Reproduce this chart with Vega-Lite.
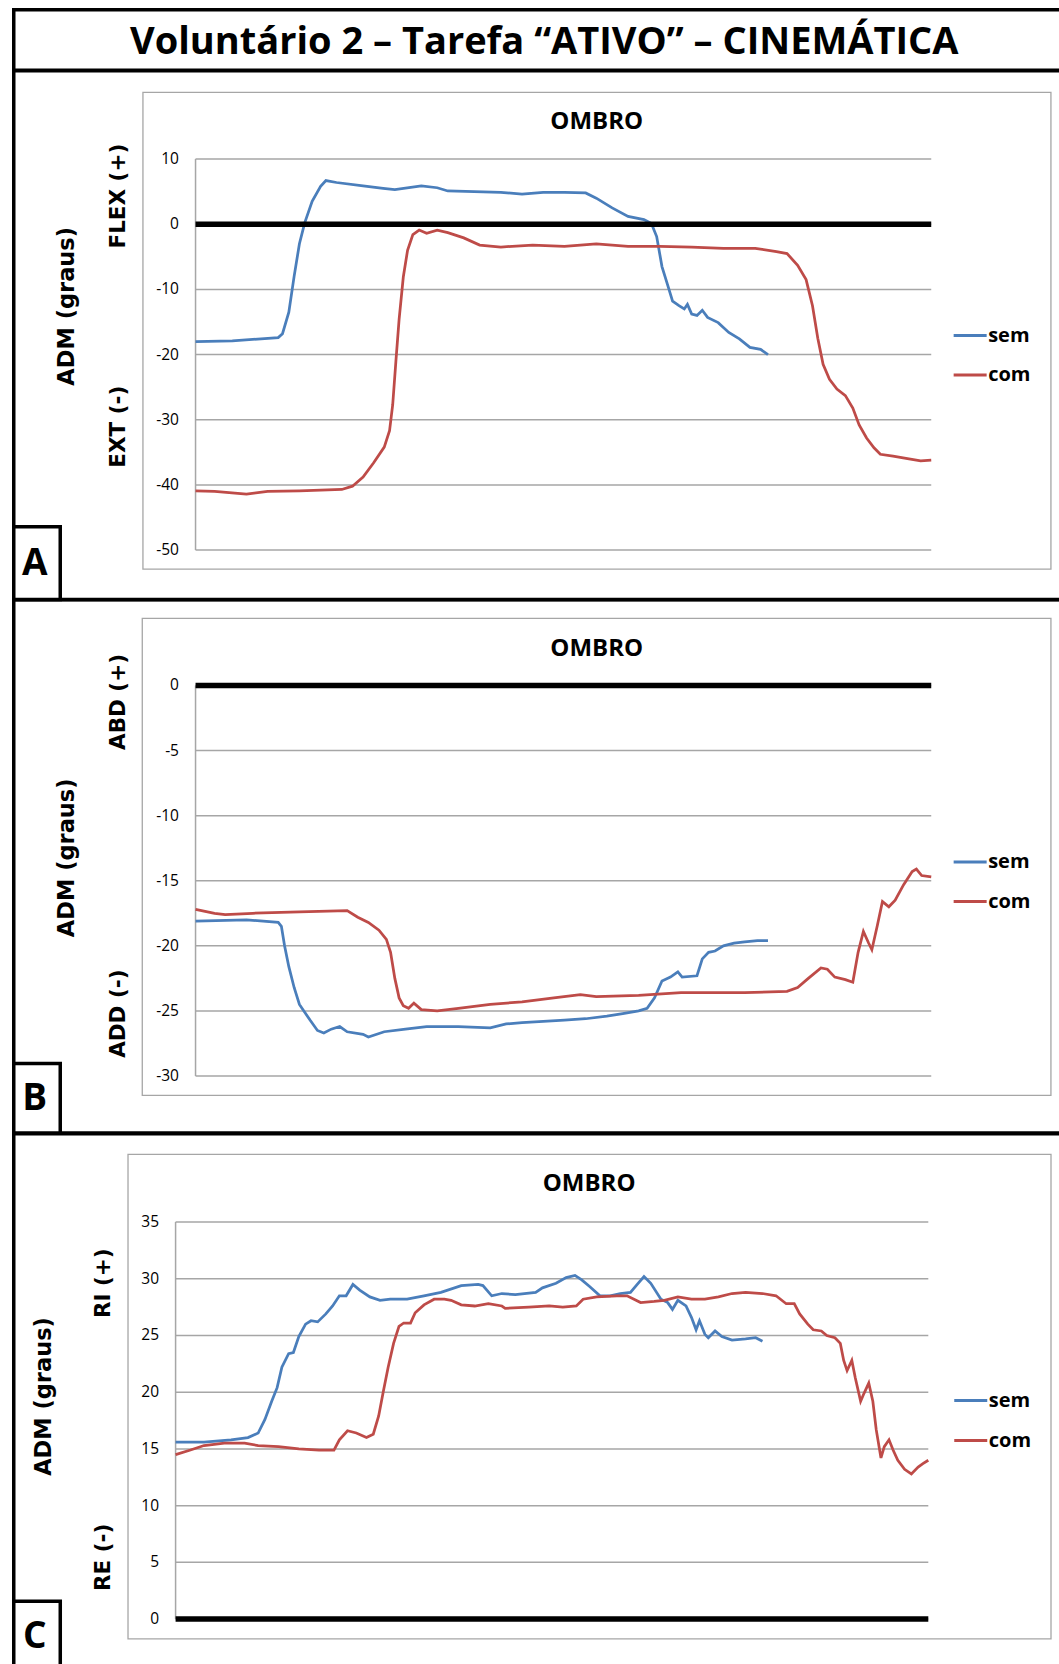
{
  "$schema": "https://vega.github.io/schema/vega-lite/v6.json",
  "padding": {"left": 9.75, "top": 7.75, "right": 0, "bottom": 0},
  "spacing": 0,
  "bounds": "flush",
  "config": {
    "view": {"stroke": "#000000", "strokeWidth": 3.5},
    "axis": {"disable": true}
  },
  "resolve": {
    "scale": {"x": "independent", "y": "independent", "color": "independent"},
    "legend": {"color": "independent"}
  },
  "vconcat": [
    {
      "width": 1050.5,
      "height": 60.5,
      "view": {"stroke": "#000000", "strokeWidth": 3.5},
      "data": {"values": [{"label": "Voluntário 2 – Tarefa “ATIVO” – CINEMÁTICA"}]},
      "mark": {"type": "text", "font": "Open Sans", "fontWeight": "bold", "fontSize": 38, "color": "#000000", "align": "center", "baseline": "alphabetic"},
      "encoding": {
        "x": {"datum": 0.505, "scale": {"domain": [0, 1], "nice": false, "zero": false}},
        "y": {"datum": 0.276, "scale": {"domain": [0, 1], "nice": false, "zero": false}},
        "text": {"field": "label", "type": "nominal"}
      }
    },
    {
      "width": 1050.5,
      "height": 528.7,
      "layer": [
        {
          "data": {"values": [{}]},
          "mark": {"type": "rect", "fill": "#ffffff", "fillOpacity": 0, "stroke": "#a6a6a6", "strokeWidth": 1.3},
          "encoding": {
            "x": {"datum": -7.15, "scale": {"domain": [-24.71, 118.08], "nice": false, "zero": false}},
            "x2": {"datum": 116.27},
            "y": {"datum": 20.22, "scale": {"domain": [-57.58, 23.55], "nice": false, "zero": false}},
            "y2": {"datum": -52.92}
          }
        },
        {
          "data": {"values": [{"v": 10}, {"v": 0}, {"v": -10}, {"v": -20}, {"v": -30}, {"v": -40}, {"v": -50}]},
          "mark": {"type": "rule", "color": "#a6a6a6", "strokeWidth": 1.5},
          "encoding": {
            "x": {"datum": 0, "scale": {"domain": [-24.71, 118.08], "nice": false, "zero": false}},
            "x2": {"datum": 100},
            "y": {"field": "v", "type": "quantitative", "scale": {"domain": [-57.58, 23.55], "nice": false, "zero": false}}
          }
        },
        {
          "data": {"values": [{}]},
          "mark": {"type": "rule", "color": "#a6a6a6", "strokeWidth": 1.5},
          "encoding": {
            "x": {"datum": 0, "scale": {"domain": [-24.71, 118.08], "nice": false, "zero": false}},
            "y": {"datum": 10, "scale": {"domain": [-57.58, 23.55], "nice": false, "zero": false}},
            "y2": {"datum": -50}
          }
        },
        {
          "data": {"values": [
            {"s":"sem","t":0,"v":-18.0},{"s":"sem","t":5,"v":-17.9},{"s":"sem","t":11.24,"v":-17.4},{"s":"sem","t":11.82,"v":-16.8},
            {"s":"sem","t":12.68,"v":-13.5},{"s":"sem","t":13.4,"v":-8.0},{"s":"sem","t":14.12,"v":-3.0},{"s":"sem","t":14.84,"v":0.2},
            {"s":"sem","t":15.85,"v":3.5},{"s":"sem","t":17.0,"v":5.8},{"s":"sem","t":17.72,"v":6.7},{"s":"sem","t":19.16,"v":6.4},
            {"s":"sem","t":22.77,"v":5.9},{"s":"sem","t":25.5,"v":5.5},{"s":"sem","t":27.09,"v":5.3},{"s":"sem","t":30.69,"v":5.9},
            {"s":"sem","t":32.85,"v":5.6},{"s":"sem","t":34.29,"v":5.1},{"s":"sem","t":41.5,"v":4.9},{"s":"sem","t":44.38,"v":4.6},
            {"s":"sem","t":47.26,"v":4.9},{"s":"sem","t":50.14,"v":4.9},{"s":"sem","t":53.03,"v":4.8},{"s":"sem","t":54.47,"v":4.0},
            {"s":"sem","t":56.63,"v":2.5},{"s":"sem","t":58.79,"v":1.2},{"s":"sem","t":60.95,"v":0.7},{"s":"sem","t":61.96,"v":0.1},
            {"s":"sem","t":62.68,"v":-1.9},{"s":"sem","t":63.4,"v":-6.5},{"s":"sem","t":64.27,"v":-9.7},{"s":"sem","t":64.84,"v":-11.8},
            {"s":"sem","t":65.71,"v":-12.5},{"s":"sem","t":66.43,"v":-13.0},{"s":"sem","t":66.86,"v":-12.3},{"s":"sem","t":67.44,"v":-13.8},
            {"s":"sem","t":68.16,"v":-14.0},{"s":"sem","t":68.88,"v":-13.2},{"s":"sem","t":69.6,"v":-14.3},{"s":"sem","t":71.04,"v":-15.1},
            {"s":"sem","t":72.48,"v":-16.6},{"s":"sem","t":73.92,"v":-17.6},{"s":"sem","t":75.36,"v":-18.9},{"s":"sem","t":76.8,"v":-19.2},
            {"s":"sem","t":77.81,"v":-20.0},
            {"s":"com","t":0,"v":-40.9},{"s":"com","t":2.59,"v":-41.0},{"s":"com","t":6.92,"v":-41.4},{"s":"com","t":9.8,"v":-41.0},
            {"s":"com","t":14.12,"v":-40.9},{"s":"com","t":19.88,"v":-40.7},{"s":"com","t":21.33,"v":-40.2},{"s":"com","t":22.77,"v":-38.8},
            {"s":"com","t":24.21,"v":-36.6},{"s":"com","t":25.65,"v":-34.2},{"s":"com","t":26.37,"v":-31.7},{"s":"com","t":26.8,"v":-27.7},
            {"s":"com","t":27.23,"v":-21.1},{"s":"com","t":27.67,"v":-14.6},{"s":"com","t":28.24,"v":-8.1},{"s":"com","t":28.82,"v":-4.0},
            {"s":"com","t":29.54,"v":-1.6},{"s":"com","t":30.4,"v":-0.9},{"s":"com","t":31.41,"v":-1.4},{"s":"com","t":32.85,"v":-0.9},
            {"s":"com","t":34.29,"v":-1.3},{"s":"com","t":36.46,"v":-2.1},{"s":"com","t":38.62,"v":-3.2},{"s":"com","t":41.5,"v":-3.5},
            {"s":"com","t":45.82,"v":-3.2},{"s":"com","t":50.14,"v":-3.4},{"s":"com","t":54.47,"v":-3.0},{"s":"com","t":58.79,"v":-3.4},
            {"s":"com","t":63.11,"v":-3.4},{"s":"com","t":67.44,"v":-3.5},{"s":"com","t":71.76,"v":-3.7},{"s":"com","t":76.08,"v":-3.7},
            {"s":"com","t":78.96,"v":-4.2},{"s":"com","t":80.4,"v":-4.5},{"s":"com","t":81.84,"v":-6.3},{"s":"com","t":82.99,"v":-8.5},
            {"s":"com","t":83.86,"v":-12.5},{"s":"com","t":84.58,"v":-17.5},{"s":"com","t":85.3,"v":-21.5},{"s":"com","t":86.17,"v":-23.8},
            {"s":"com","t":87.18,"v":-25.3},{"s":"com","t":88.33,"v":-26.3},{"s":"com","t":89.34,"v":-28.2},{"s":"com","t":90.2,"v":-30.8},
            {"s":"com","t":91.21,"v":-32.8},{"s":"com","t":92.22,"v":-34.3},{"s":"com","t":93.08,"v":-35.3},{"s":"com","t":94.81,"v":-35.6},
            {"s":"com","t":96.97,"v":-36.0},{"s":"com","t":98.56,"v":-36.3},{"s":"com","t":100,"v":-36.2}
          ]},
          "mark": {"type": "line", "strokeWidth": 2.75},
          "encoding": {
            "x": {"field": "t", "type": "quantitative", "scale": {"domain": [-24.71, 118.08], "nice": false, "zero": false}},
            "y": {"field": "v", "type": "quantitative", "scale": {"domain": [-57.58, 23.55], "nice": false, "zero": false}},
            "color": {
              "field": "s", "type": "nominal",
              "scale": {"domain": ["sem", "com"], "range": ["#4a7ebb", "#be4b48"]},
              "legend": {"orient": "none", "legendX": 938.4, "legendY": 246.8, "title": null, "padding": 0,
                "symbolType": "stroke", "symbolSize": 1089, "symbolStrokeWidth": 3,
                "labelFont": "Open Sans", "labelFontSize": 20, "labelFontWeight": "bold", "labelColor": "#000000",
                "labelOffset": 0, "rowPadding": 11.5}
            }
          }
        },
        {
          "data": {"values": [{}]},
          "mark": {"type": "rule", "color": "#000000", "strokeWidth": 5.5},
          "encoding": {
            "x": {"datum": 0, "scale": {"domain": [-24.71, 118.08], "nice": false, "zero": false}},
            "x2": {"datum": 100},
            "y": {"datum": 0, "scale": {"domain": [-57.58, 23.55], "nice": false, "zero": false}}
          }
        },
        {
          "data": {"values": [{"v": 10, "lab": "10"}, {"v": 0, "lab": "0"}, {"v": -10, "lab": "-10"}, {"v": -20, "lab": "-20"}, {"v": -30, "lab": "-30"}, {"v": -40, "lab": "-40"}, {"v": -50, "lab": "-50"}]},
          "mark": {"type": "text", "align": "right", "baseline": "middle", "font": "Open Sans", "fontSize": 15.5, "color": "#000000"},
          "encoding": {
            "x": {"datum": -2.25, "scale": {"domain": [-24.71, 118.08], "nice": false, "zero": false}},
            "y": {"field": "v", "type": "quantitative", "scale": {"domain": [-57.58, 23.55], "nice": false, "zero": false}},
            "text": {"field": "lab", "type": "nominal"}
          }
        },
        {
          "data": {"values": [{"label": "OMBRO"}]},
          "mark": {"type": "text", "align": "center", "baseline": "middle", "font": "Open Sans", "fontWeight": "bold", "fontSize": 24, "color": "#000000"},
          "encoding": {
            "x": {"datum": 54.53, "scale": {"domain": [-24.71, 118.08], "nice": false, "zero": false}},
            "y": {"datum": 15.62, "scale": {"domain": [-57.58, 23.55], "nice": false, "zero": false}},
            "text": {"field": "label", "type": "nominal"}
          }
        },
        {
          "data": {"values": [{"label": "FLEX (+)"}]},
          "mark": {"type": "text", "angle": 270, "align": "center", "baseline": "middle", "font": "DejaVu Sans", "fontWeight": "bold", "fontSize": 21.5, "color": "#000000"},
          "encoding": {
            "x": {"datum": -10.44, "scale": {"domain": [-24.71, 118.08], "nice": false, "zero": false}},
            "y": {"datum": 4.31, "scale": {"domain": [-57.58, 23.55], "nice": false, "zero": false}},
            "text": {"field": "label", "type": "nominal"}
          }
        },
        {
          "data": {"values": [{"label": "EXT (-)"}]},
          "mark": {"type": "text", "angle": 270, "align": "center", "baseline": "middle", "font": "DejaVu Sans", "fontWeight": "bold", "fontSize": 21.5, "color": "#000000"},
          "encoding": {
            "x": {"datum": -10.44, "scale": {"domain": [-24.71, 118.08], "nice": false, "zero": false}},
            "y": {"datum": -31.08, "scale": {"domain": [-57.58, 23.55], "nice": false, "zero": false}},
            "text": {"field": "label", "type": "nominal"}
          }
        },
        {
          "data": {"values": [{"label": "ADM (graus)"}]},
          "mark": {"type": "text", "angle": 270, "align": "center", "baseline": "middle", "font": "DejaVu Sans", "fontWeight": "bold", "fontSize": 22.5, "color": "#000000"},
          "encoding": {
            "x": {"datum": -17.44, "scale": {"domain": [-24.71, 118.08], "nice": false, "zero": false}},
            "y": {"datum": -12.6, "scale": {"domain": [-57.58, 23.55], "nice": false, "zero": false}},
            "text": {"field": "label", "type": "nominal"}
          }
        },
        {
          "data": {"values": [{}]},
          "mark": {"type": "rect", "fill": "#ffffff", "stroke": "#000000", "strokeWidth": 3.5},
          "encoding": {
            "x": {"datum": -24.71, "scale": {"domain": [-24.71, 118.08], "nice": false, "zero": false}},
            "x2": {"datum": -18.39},
            "y": {"datum": -46.42, "scale": {"domain": [-57.58, 23.55], "nice": false, "zero": false}},
            "y2": {"datum": -57.58}
          }
        },
        {
          "data": {"values": [{"label": "A"}]},
          "mark": {"type": "text", "align": "center", "baseline": "middle", "font": "Open Sans", "fontWeight": "bold", "fontSize": 37, "color": "#000000"},
          "encoding": {
            "x": {"datum": -21.86, "scale": {"domain": [-24.71, 118.08], "nice": false, "zero": false}},
            "y": {"datum": -52.21, "scale": {"domain": [-57.58, 23.55], "nice": false, "zero": false}},
            "text": {"field": "label", "type": "nominal"}
          }
        }
      ]
    },
    {
      "width": 1050.5,
      "height": 533.3,
      "layer": [
        {
          "data": {"values": [{}]},
          "mark": {"type": "rect", "fill": "#ffffff", "fillOpacity": 0, "stroke": "#a6a6a6", "strokeWidth": 1.3},
          "encoding": {
            "x": {"datum": -7.24, "scale": {"domain": [-24.71, 118.08], "nice": false, "zero": false}},
            "x2": {"datum": 116.27},
            "y": {"datum": 5.15, "scale": {"domain": [-34.38, 6.582], "nice": false, "zero": false}},
            "y2": {"datum": -31.48}
          }
        },
        {
          "data": {"values": [{"v": 0}, {"v": -5}, {"v": -10}, {"v": -15}, {"v": -20}, {"v": -25}, {"v": -30}]},
          "mark": {"type": "rule", "color": "#a6a6a6", "strokeWidth": 1.5},
          "encoding": {
            "x": {"datum": 0, "scale": {"domain": [-24.71, 118.08], "nice": false, "zero": false}},
            "x2": {"datum": 100},
            "y": {"field": "v", "type": "quantitative", "scale": {"domain": [-34.38, 6.582], "nice": false, "zero": false}}
          }
        },
        {
          "data": {"values": [{}]},
          "mark": {"type": "rule", "color": "#a6a6a6", "strokeWidth": 1.5},
          "encoding": {
            "x": {"datum": 0, "scale": {"domain": [-24.71, 118.08], "nice": false, "zero": false}},
            "y": {"datum": 0, "scale": {"domain": [-34.38, 6.582], "nice": false, "zero": false}},
            "y2": {"datum": -30}
          }
        },
        {
          "data": {"values": [
            {"s":"sem","t":0,"v":-18.1},{"s":"sem","t":6.92,"v":-18.0},{"s":"sem","t":11.24,"v":-18.2},{"s":"sem","t":11.67,"v":-18.5},
            {"s":"sem","t":12.1,"v":-20.0},{"s":"sem","t":12.68,"v":-21.6},{"s":"sem","t":13.4,"v":-23.2},{"s":"sem","t":14.12,"v":-24.5},
            {"s":"sem","t":15.56,"v":-25.7},{"s":"sem","t":16.57,"v":-26.5},{"s":"sem","t":17.44,"v":-26.7},{"s":"sem","t":18.44,"v":-26.4},
            {"s":"sem","t":19.6,"v":-26.2},{"s":"sem","t":20.61,"v":-26.6},{"s":"sem","t":22.77,"v":-26.8},{"s":"sem","t":23.49,"v":-27.0},
            {"s":"sem","t":25.65,"v":-26.6},{"s":"sem","t":28.53,"v":-26.4},{"s":"sem","t":31.41,"v":-26.2},{"s":"sem","t":35.73,"v":-26.2},
            {"s":"sem","t":40.06,"v":-26.3},{"s":"sem","t":42.22,"v":-26.0},{"s":"sem","t":44.38,"v":-25.9},{"s":"sem","t":47.26,"v":-25.8},
            {"s":"sem","t":50.14,"v":-25.7},{"s":"sem","t":53.03,"v":-25.6},{"s":"sem","t":55.91,"v":-25.4},{"s":"sem","t":58.07,"v":-25.2},
            {"s":"sem","t":60.23,"v":-25.0},{"s":"sem","t":61.38,"v":-24.8},{"s":"sem","t":62.39,"v":-24.0},{"s":"sem","t":63.4,"v":-22.7},
            {"s":"sem","t":64.55,"v":-22.4},{"s":"sem","t":65.56,"v":-22.0},{"s":"sem","t":66.14,"v":-22.4},{"s":"sem","t":68.16,"v":-22.3},
            {"s":"sem","t":68.88,"v":-21.0},{"s":"sem","t":69.74,"v":-20.5},{"s":"sem","t":70.61,"v":-20.4},{"s":"sem","t":71.76,"v":-20.0},
            {"s":"sem","t":73.2,"v":-19.8},{"s":"sem","t":74.64,"v":-19.7},{"s":"sem","t":76.37,"v":-19.6},{"s":"sem","t":77.81,"v":-19.6},
            {"s":"com","t":0,"v":-17.2},{"s":"com","t":2.59,"v":-17.5},{"s":"com","t":4.03,"v":-17.6},{"s":"com","t":7.78,"v":-17.5},
            {"s":"com","t":14.12,"v":-17.4},{"s":"com","t":20.61,"v":-17.3},{"s":"com","t":22.05,"v":-17.8},{"s":"com","t":23.49,"v":-18.2},
            {"s":"com","t":24.93,"v":-18.8},{"s":"com","t":25.94,"v":-19.5},{"s":"com","t":26.51,"v":-20.5},{"s":"com","t":27.09,"v":-22.5},
            {"s":"com","t":27.67,"v":-24.0},{"s":"com","t":28.24,"v":-24.6},{"s":"com","t":28.96,"v":-24.8},{"s":"com","t":29.68,"v":-24.4},
            {"s":"com","t":30.69,"v":-24.9},{"s":"com","t":32.85,"v":-25.0},{"s":"com","t":35.73,"v":-24.8},{"s":"com","t":40.06,"v":-24.5},
            {"s":"com","t":44.38,"v":-24.3},{"s":"com","t":48.7,"v":-24.0},{"s":"com","t":52.31,"v":-23.75},{"s":"com","t":54.47,"v":-23.9},
            {"s":"com","t":60.23,"v":-23.8},{"s":"com","t":65.99,"v":-23.6},{"s":"com","t":74.64,"v":-23.6},{"s":"com","t":80.4,"v":-23.5},
            {"s":"com","t":81.84,"v":-23.2},{"s":"com","t":83.29,"v":-22.5},{"s":"com","t":85.01,"v":-21.7},{"s":"com","t":85.88,"v":-21.8},
            {"s":"com","t":86.89,"v":-22.4},{"s":"com","t":88.33,"v":-22.6},{"s":"com","t":89.34,"v":-22.8},{"s":"com","t":90.06,"v":-20.5},
            {"s":"com","t":90.78,"v":-18.9},{"s":"com","t":91.5,"v":-19.8},{"s":"com","t":91.93,"v":-20.3},{"s":"com","t":92.65,"v":-18.5},
            {"s":"com","t":93.37,"v":-16.6},{"s":"com","t":94.24,"v":-17.0},{"s":"com","t":95.1,"v":-16.5},{"s":"com","t":96.25,"v":-15.3},
            {"s":"com","t":97.41,"v":-14.3},{"s":"com","t":97.98,"v":-14.1},{"s":"com","t":98.7,"v":-14.6},{"s":"com","t":100,"v":-14.7}
          ]},
          "mark": {"type": "line", "strokeWidth": 2.75},
          "encoding": {
            "x": {"field": "t", "type": "quantitative", "scale": {"domain": [-24.71, 118.08], "nice": false, "zero": false}},
            "y": {"field": "v", "type": "quantitative", "scale": {"domain": [-34.38, 6.582], "nice": false, "zero": false}},
            "color": {
              "field": "s", "type": "nominal",
              "scale": {"domain": ["sem", "com"], "range": ["#4a7ebb", "#be4b48"]},
              "legend": {"orient": "none", "legendX": 938.4, "legendY": 244.3, "title": null, "padding": 0,
                "symbolType": "stroke", "symbolSize": 1089, "symbolStrokeWidth": 3,
                "labelFont": "Open Sans", "labelFontSize": 20, "labelFontWeight": "bold", "labelColor": "#000000",
                "labelOffset": 0, "rowPadding": 11.5}
            }
          }
        },
        {
          "data": {"values": [{}]},
          "mark": {"type": "rule", "color": "#000000", "strokeWidth": 5.5},
          "encoding": {
            "x": {"datum": 0, "scale": {"domain": [-24.71, 118.08], "nice": false, "zero": false}},
            "x2": {"datum": 100},
            "y": {"datum": 0, "scale": {"domain": [-34.38, 6.582], "nice": false, "zero": false}}
          }
        },
        {
          "data": {"values": [{"v": 0, "lab": "0"}, {"v": -5, "lab": "-5"}, {"v": -10, "lab": "-10"}, {"v": -15, "lab": "-15"}, {"v": -20, "lab": "-20"}, {"v": -25, "lab": "-25"}, {"v": -30, "lab": "-30"}]},
          "mark": {"type": "text", "align": "right", "baseline": "middle", "font": "Open Sans", "fontSize": 15.5, "color": "#000000"},
          "encoding": {
            "x": {"datum": -2.25, "scale": {"domain": [-24.71, 118.08], "nice": false, "zero": false}},
            "y": {"field": "v", "type": "quantitative", "scale": {"domain": [-34.38, 6.582], "nice": false, "zero": false}},
            "text": {"field": "lab", "type": "nominal"}
          }
        },
        {
          "data": {"values": [{"label": "OMBRO"}]},
          "mark": {"type": "text", "align": "center", "baseline": "middle", "font": "Open Sans", "fontWeight": "bold", "fontSize": 24, "color": "#000000"},
          "encoding": {
            "x": {"datum": 54.53, "scale": {"domain": [-24.71, 118.08], "nice": false, "zero": false}},
            "y": {"datum": 2.82, "scale": {"domain": [-34.38, 6.582], "nice": false, "zero": false}},
            "text": {"field": "label", "type": "nominal"}
          }
        },
        {
          "data": {"values": [{"label": "ABD (+)"}]},
          "mark": {"type": "text", "angle": 270, "align": "center", "baseline": "middle", "font": "DejaVu Sans", "fontWeight": "bold", "fontSize": 21.5, "color": "#000000"},
          "encoding": {
            "x": {"datum": -10.44, "scale": {"domain": [-24.71, 118.08], "nice": false, "zero": false}},
            "y": {"datum": -1.27, "scale": {"domain": [-34.38, 6.582], "nice": false, "zero": false}},
            "text": {"field": "label", "type": "nominal"}
          }
        },
        {
          "data": {"values": [{"label": "ADD (-)"}]},
          "mark": {"type": "text", "angle": 270, "align": "center", "baseline": "middle", "font": "DejaVu Sans", "fontWeight": "bold", "fontSize": 21.5, "color": "#000000"},
          "encoding": {
            "x": {"datum": -10.44, "scale": {"domain": [-24.71, 118.08], "nice": false, "zero": false}},
            "y": {"datum": -25.21, "scale": {"domain": [-34.38, 6.582], "nice": false, "zero": false}},
            "text": {"field": "label", "type": "nominal"}
          }
        },
        {
          "data": {"values": [{"label": "ADM (graus)"}]},
          "mark": {"type": "text", "angle": 270, "align": "center", "baseline": "middle", "font": "DejaVu Sans", "fontWeight": "bold", "fontSize": 22.5, "color": "#000000"},
          "encoding": {
            "x": {"datum": -17.44, "scale": {"domain": [-24.71, 118.08], "nice": false, "zero": false}},
            "y": {"datum": -13.24, "scale": {"domain": [-34.38, 6.582], "nice": false, "zero": false}},
            "text": {"field": "label", "type": "nominal"}
          }
        },
        {
          "data": {"values": [{}]},
          "mark": {"type": "rect", "fill": "#ffffff", "stroke": "#000000", "strokeWidth": 3.5},
          "encoding": {
            "x": {"datum": -24.71, "scale": {"domain": [-24.71, 118.08], "nice": false, "zero": false}},
            "x2": {"datum": -18.39},
            "y": {"datum": -29.04, "scale": {"domain": [-34.38, 6.582], "nice": false, "zero": false}},
            "y2": {"datum": -34.38}
          }
        },
        {
          "data": {"values": [{"label": "B"}]},
          "mark": {"type": "text", "align": "center", "baseline": "middle", "font": "Open Sans", "fontWeight": "bold", "fontSize": 37, "color": "#000000"},
          "encoding": {
            "x": {"datum": -21.86, "scale": {"domain": [-24.71, 118.08], "nice": false, "zero": false}},
            "y": {"datum": -31.73, "scale": {"domain": [-34.38, 6.582], "nice": false, "zero": false}},
            "text": {"field": "label", "type": "nominal"}
          }
        }
      ]
    },
    {
      "width": 1050.5,
      "height": 540,
      "layer": [
        {
          "data": {"values": [{}]},
          "mark": {"type": "rect", "fill": "#ffffff", "fillOpacity": 0, "stroke": "#a6a6a6", "strokeWidth": 1.3},
          "encoding": {
            "x": {"datum": -6.32, "scale": {"domain": [-21.5, 118.06], "nice": false, "zero": false}},
            "x2": {"datum": 116.3},
            "y": {"datum": 40.96, "scale": {"domain": [-4.822, 42.785], "nice": false, "zero": false}},
            "y2": {"datum": -1.74}
          }
        },
        {
          "data": {"values": [{"v": 35}, {"v": 30}, {"v": 25}, {"v": 20}, {"v": 15}, {"v": 10}, {"v": 5}, {"v": 0}]},
          "mark": {"type": "rule", "color": "#a6a6a6", "strokeWidth": 1.5},
          "encoding": {
            "x": {"datum": 0, "scale": {"domain": [-21.5, 118.06], "nice": false, "zero": false}},
            "x2": {"datum": 100},
            "y": {"field": "v", "type": "quantitative", "scale": {"domain": [-4.822, 42.785], "nice": false, "zero": false}}
          }
        },
        {
          "data": {"values": [{}]},
          "mark": {"type": "rule", "color": "#a6a6a6", "strokeWidth": 1.5},
          "encoding": {
            "x": {"datum": 0, "scale": {"domain": [-21.5, 118.06], "nice": false, "zero": false}},
            "y": {"datum": 35, "scale": {"domain": [-4.822, 42.785], "nice": false, "zero": false}},
            "y2": {"datum": 0}
          }
        },
        {
          "data": {"values": [
            {"s":"sem","t":0,"v":15.6},{"s":"sem","t":3.78,"v":15.6},{"s":"sem","t":7.37,"v":15.8},{"s":"sem","t":9.62,"v":16.0},
            {"s":"sem","t":10.97,"v":16.4},{"s":"sem","t":11.87,"v":17.6},{"s":"sem","t":12.77,"v":19.2},{"s":"sem","t":13.49,"v":20.4},
            {"s":"sem","t":14.12,"v":22.2},{"s":"sem","t":15.02,"v":23.4},{"s":"sem","t":15.65,"v":23.5},{"s":"sem","t":16.37,"v":24.9},
            {"s":"sem","t":17.27,"v":26.0},{"s":"sem","t":17.99,"v":26.3},{"s":"sem","t":18.88,"v":26.2},{"s":"sem","t":19.96,"v":26.9},
            {"s":"sem","t":20.86,"v":27.6},{"s":"sem","t":21.76,"v":28.5},{"s":"sem","t":22.66,"v":28.5},{"s":"sem","t":23.56,"v":29.5},
            {"s":"sem","t":24.46,"v":29.0},{"s":"sem","t":25.81,"v":28.4},{"s":"sem","t":27.16,"v":28.1},{"s":"sem","t":28.51,"v":28.2},
            {"s":"sem","t":30.76,"v":28.2},{"s":"sem","t":33.0,"v":28.5},{"s":"sem","t":35.25,"v":28.8},{"s":"sem","t":37.95,"v":29.4},
            {"s":"sem","t":40.2,"v":29.5},{"s":"sem","t":40.83,"v":29.4},{"s":"sem","t":42.0,"v":28.5},{"s":"sem","t":43.35,"v":28.7},
            {"s":"sem","t":45.14,"v":28.6},{"s":"sem","t":47.84,"v":28.8},{"s":"sem","t":48.74,"v":29.2},{"s":"sem","t":50.54,"v":29.6},
            {"s":"sem","t":51.89,"v":30.1},{"s":"sem","t":53.06,"v":30.3},{"s":"sem","t":53.96,"v":29.9},{"s":"sem","t":55.04,"v":29.3},
            {"s":"sem","t":56.38,"v":28.5},{"s":"sem","t":57.73,"v":28.5},{"s":"sem","t":59.08,"v":28.7},{"s":"sem","t":60.43,"v":28.8},
            {"s":"sem","t":61.33,"v":29.5},{"s":"sem","t":62.23,"v":30.2},{"s":"sem","t":63.13,"v":29.6},{"s":"sem","t":64.48,"v":28.2},
            {"s":"sem","t":65.38,"v":27.9},{"s":"sem","t":66.01,"v":27.3},{"s":"sem","t":66.73,"v":28.1},{"s":"sem","t":67.81,"v":27.6},
            {"s":"sem","t":68.53,"v":26.6},{"s":"sem","t":69.15,"v":25.5},{"s":"sem","t":69.6,"v":26.3},{"s":"sem","t":70.32,"v":25.1},
            {"s":"sem","t":70.77,"v":24.8},{"s":"sem","t":71.67,"v":25.4},{"s":"sem","t":72.57,"v":24.9},{"s":"sem","t":73.92,"v":24.6},
            {"s":"sem","t":75.72,"v":24.7},{"s":"sem","t":77.07,"v":24.8},{"s":"sem","t":77.97,"v":24.5},
            {"s":"com","t":0,"v":14.5},{"s":"com","t":1.98,"v":14.9},{"s":"com","t":3.78,"v":15.3},{"s":"com","t":6.47,"v":15.5},
            {"s":"com","t":9.17,"v":15.5},{"s":"com","t":10.97,"v":15.3},{"s":"com","t":13.67,"v":15.2},{"s":"com","t":16.37,"v":15.0},
            {"s":"com","t":19.06,"v":14.9},{"s":"com","t":21.04,"v":14.9},{"s":"com","t":21.76,"v":15.8},{"s":"com","t":22.84,"v":16.6},
            {"s":"com","t":24.01,"v":16.4},{"s":"com","t":25.36,"v":16.0},{"s":"com","t":26.26,"v":16.3},{"s":"com","t":26.98,"v":17.9},
            {"s":"com","t":27.61,"v":20.1},{"s":"com","t":28.24,"v":22.2},{"s":"com","t":28.96,"v":24.3},{"s":"com","t":29.68,"v":25.8},
            {"s":"com","t":30.31,"v":26.1},{"s":"com","t":31.21,"v":26.1},{"s":"com","t":31.83,"v":27.0},{"s":"com","t":33.0,"v":27.7},
            {"s":"com","t":34.35,"v":28.2},{"s":"com","t":35.7,"v":28.2},{"s":"com","t":36.6,"v":28.1},{"s":"com","t":37.95,"v":27.7},
            {"s":"com","t":39.75,"v":27.6},{"s":"com","t":41.55,"v":27.8},{"s":"com","t":43.35,"v":27.6},{"s":"com","t":43.79,"v":27.4},
            {"s":"com","t":46.94,"v":27.5},{"s":"com","t":49.64,"v":27.6},{"s":"com","t":51.44,"v":27.5},{"s":"com","t":53.24,"v":27.6},
            {"s":"com","t":54.14,"v":28.2},{"s":"com","t":55.94,"v":28.4},{"s":"com","t":58.63,"v":28.5},{"s":"com","t":59.98,"v":28.5},
            {"s":"com","t":61.78,"v":27.9},{"s":"com","t":63.58,"v":28.0},{"s":"com","t":64.93,"v":28.1},{"s":"com","t":66.73,"v":28.4},
            {"s":"com","t":68.53,"v":28.2},{"s":"com","t":70.32,"v":28.2},{"s":"com","t":72.12,"v":28.4},{"s":"com","t":73.92,"v":28.7},
            {"s":"com","t":75.72,"v":28.8},{"s":"com","t":77.97,"v":28.7},{"s":"com","t":79.77,"v":28.5},{"s":"com","t":81.12,"v":27.8},
            {"s":"com","t":82.19,"v":27.8},{"s":"com","t":82.91,"v":26.9},{"s":"com","t":83.99,"v":26.0},{"s":"com","t":84.71,"v":25.5},
            {"s":"com","t":85.79,"v":25.4},{"s":"com","t":86.51,"v":25.0},{"s":"com","t":87.59,"v":24.8},{"s":"com","t":88.31,"v":24.3},
            {"s":"com","t":88.76,"v":22.8},{"s":"com","t":89.21,"v":21.9},{"s":"com","t":89.84,"v":22.8},{"s":"com","t":90.29,"v":21.3},
            {"s":"com","t":91.01,"v":19.2},{"s":"com","t":91.46,"v":19.9},{"s":"com","t":92.09,"v":20.8},{"s":"com","t":92.63,"v":19.2},
            {"s":"com","t":93.08,"v":16.7},{"s":"com","t":93.71,"v":14.2},{"s":"com","t":94.15,"v":15.2},{"s":"com","t":94.78,"v":15.8},
            {"s":"com","t":95.32,"v":14.9},{"s":"com","t":95.95,"v":14.0},{"s":"com","t":96.85,"v":13.2},{"s":"com","t":97.75,"v":12.8},
            {"s":"com","t":98.65,"v":13.4},{"s":"com","t":99.28,"v":13.7},{"s":"com","t":100,"v":14.0}
          ]},
          "mark": {"type": "line", "strokeWidth": 2.75},
          "encoding": {
            "x": {"field": "t", "type": "quantitative", "scale": {"domain": [-21.5, 118.06], "nice": false, "zero": false}},
            "y": {"field": "v", "type": "quantitative", "scale": {"domain": [-4.822, 42.785], "nice": false, "zero": false}},
            "color": {
              "field": "s", "type": "nominal",
              "scale": {"domain": ["sem", "com"], "range": ["#4a7ebb", "#be4b48"]},
              "legend": {"orient": "none", "legendX": 939, "legendY": 248.8, "title": null, "padding": 0,
                "symbolType": "stroke", "symbolSize": 1089, "symbolStrokeWidth": 3,
                "labelFont": "Open Sans", "labelFontSize": 20, "labelFontWeight": "bold", "labelColor": "#000000",
                "labelOffset": 0, "rowPadding": 12}
            }
          }
        },
        {
          "data": {"values": [{}]},
          "mark": {"type": "rule", "color": "#000000", "strokeWidth": 5.5},
          "encoding": {
            "x": {"datum": 0, "scale": {"domain": [-21.5, 118.06], "nice": false, "zero": false}},
            "x2": {"datum": 100},
            "y": {"datum": 0, "scale": {"domain": [-4.822, 42.785], "nice": false, "zero": false}}
          }
        },
        {
          "data": {"values": [{"v": 35, "lab": "35"}, {"v": 30, "lab": "30"}, {"v": 25, "lab": "25"}, {"v": 20, "lab": "20"}, {"v": 15, "lab": "15"}, {"v": 10, "lab": "10"}, {"v": 5, "lab": "5"}, {"v": 0, "lab": "0"}]},
          "mark": {"type": "text", "align": "right", "baseline": "middle", "font": "Open Sans", "fontSize": 15.5, "color": "#000000"},
          "encoding": {
            "x": {"datum": -2.2, "scale": {"domain": [-21.5, 118.06], "nice": false, "zero": false}},
            "y": {"field": "v", "type": "quantitative", "scale": {"domain": [-4.822, 42.785], "nice": false, "zero": false}},
            "text": {"field": "lab", "type": "nominal"}
          }
        },
        {
          "data": {"values": [{"label": "OMBRO"}]},
          "mark": {"type": "text", "align": "center", "baseline": "middle", "font": "Open Sans", "fontWeight": "bold", "fontSize": 24, "color": "#000000"},
          "encoding": {
            "x": {"datum": 54.94, "scale": {"domain": [-21.5, 118.06], "nice": false, "zero": false}},
            "y": {"datum": 38.32, "scale": {"domain": [-4.822, 42.785], "nice": false, "zero": false}},
            "text": {"field": "label", "type": "nominal"}
          }
        },
        {
          "data": {"values": [{"label": "RI (+)"}]},
          "mark": {"type": "text", "angle": 270, "align": "center", "baseline": "middle", "font": "DejaVu Sans", "fontWeight": "bold", "fontSize": 21.5, "color": "#000000"},
          "encoding": {
            "x": {"datum": -9.57, "scale": {"domain": [-21.5, 118.06], "nice": false, "zero": false}},
            "y": {"datum": 29.61, "scale": {"domain": [-4.822, 42.785], "nice": false, "zero": false}},
            "text": {"field": "label", "type": "nominal"}
          }
        },
        {
          "data": {"values": [{"label": "RE (-)"}]},
          "mark": {"type": "text", "angle": 270, "align": "center", "baseline": "middle", "font": "DejaVu Sans", "fontWeight": "bold", "fontSize": 21.5, "color": "#000000"},
          "encoding": {
            "x": {"datum": -9.57, "scale": {"domain": [-21.5, 118.06], "nice": false, "zero": false}},
            "y": {"datum": 5.44, "scale": {"domain": [-4.822, 42.785], "nice": false, "zero": false}},
            "text": {"field": "label", "type": "nominal"}
          }
        },
        {
          "data": {"values": [{"label": "ADM (graus)"}]},
          "mark": {"type": "text", "angle": 270, "align": "center", "baseline": "middle", "font": "DejaVu Sans", "fontWeight": "bold", "fontSize": 22.5, "color": "#000000"},
          "encoding": {
            "x": {"datum": -17.44, "scale": {"domain": [-21.5, 118.06], "nice": false, "zero": false}},
            "y": {"datum": 19.62, "scale": {"domain": [-4.822, 42.785], "nice": false, "zero": false}},
            "text": {"field": "label", "type": "nominal"}
          }
        },
        {
          "data": {"values": [{}]},
          "mark": {"type": "rect", "fill": "#ffffff", "stroke": "#000000", "strokeWidth": 3.5},
          "encoding": {
            "x": {"datum": -21.5, "scale": {"domain": [-21.5, 118.06], "nice": false, "zero": false}},
            "x2": {"datum": -15.32},
            "y": {"datum": 1.57, "scale": {"domain": [-4.822, 42.785], "nice": false, "zero": false}},
            "y2": {"datum": -4.822}
          }
        },
        {
          "data": {"values": [{"label": "C"}]},
          "mark": {"type": "text", "align": "center", "baseline": "middle", "font": "Open Sans", "fontWeight": "bold", "fontSize": 37, "color": "#000000"},
          "encoding": {
            "x": {"datum": -18.71, "scale": {"domain": [-21.5, 118.06], "nice": false, "zero": false}},
            "y": {"datum": -1.56, "scale": {"domain": [-4.822, 42.785], "nice": false, "zero": false}},
            "text": {"field": "label", "type": "nominal"}
          }
        }
      ]
    }
  ]
}
